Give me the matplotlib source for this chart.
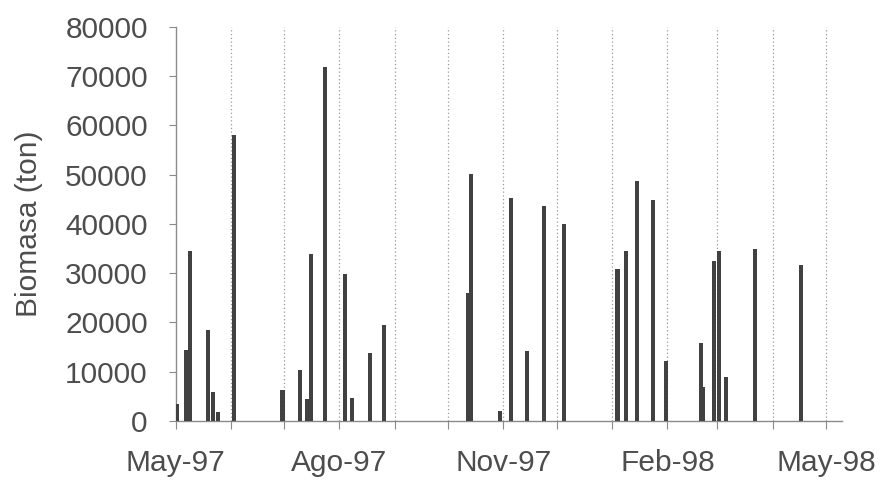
import numpy as np
import pandas as pd
import matplotlib
matplotlib.use("Agg")
import matplotlib.pyplot as plt
import matplotlib.dates as mdates

# ── DATA ─────────────────────────────────────────────────────────
sample_dates = [
    "1997-05-02", "1997-05-07", "1997-05-09", "1997-05-19", "1997-05-22",
    "1997-05-25", "1997-06-03", "1997-06-30", "1997-07-10", "1997-07-14",
    "1997-07-16", "1997-07-24", "1997-08-04", "1997-08-08", "1997-08-18",
    "1997-08-26", "1997-10-12", "1997-10-14", "1997-10-30", "1997-11-05",
    "1997-11-14", "1997-11-24", "1997-12-05", "1998-01-04", "1998-01-09",
    "1998-01-15", "1998-01-24", "1998-01-31", "1998-02-20", "1998-02-21",
    "1998-02-27", "1998-03-02", "1998-03-06", "1998-03-22", "1998-04-17",
]
biomasa = [
    3500, 14500, 34500, 18500, 5900,
    1800, 58000, 6300, 10300, 4500,
    34000, 71800, 29800, 4600, 13900,
    19500, 26000, 50200, 2100, 45300,
    14300, 43700, 40000, 30900, 34600,
    48700, 44800, 12200, 15900, 6800,
    32500, 34600, 9000, 34900, 31600,
]

month_ticks = pd.date_range("1997-05-01", "1998-05-01", freq="MS")
month_labels = ["May-97", "", "", "Ago-97", "", "", "Nov-97", "", "",
                "Feb-98", "", "", "May-98"]
y_ticks = [0, 10000, 20000, 30000, 40000, 50000, 60000, 70000, 80000]

# ── STYLE ────────────────────────────────────────────────────────
plt.rcParams["font.family"] = ["Liberation Sans", "DejaVu Sans"]
AXIS_GREY = "#8a8a8a"
TEXT_GREY = "#4d4d4d"
BAR_GREY  = "#414141"

fig = plt.figure(figsize=(8.87, 4.83), dpi=100)
ax = fig.add_axes([0.1979, 0.1284, 0.9493 - 0.1979, 0.9441 - 0.1284])

x = mdates.date2num(pd.to_datetime(sample_dates))
ax.bar(x, biomasa, width=2.3, color=BAR_GREY, zorder=3)

# dotted monthly grid
tick_num = mdates.date2num(month_ticks)
for t in tick_num[1:]:
    ax.axvline(t, color="#9a9a9a", linestyle=(0, (1, 2)), linewidth=0.9, zorder=1)

x0 = mdates.date2num(pd.Timestamp("1997-05-01"))
ax.set_xlim(x0, x0 + 374)
ax.set_ylim(0, 80000)

ax.set_xticks(tick_num)
ax.set_xticklabels(month_labels)
ax.set_yticks(y_ticks)
ax.set_yticklabels([str(v) for v in y_ticks])

for side in ["top", "right"]:
    ax.spines[side].set_visible(False)
for side in ["left", "bottom"]:
    ax.spines[side].set_color(AXIS_GREY)
    ax.spines[side].set_linewidth(1.0)

ax.tick_params(axis="x", direction="out", length=6, width=0.8, color=AXIS_GREY,
               pad=14, labelsize=21.5, labelcolor=TEXT_GREY)
ax.tick_params(axis="y", direction="out", length=5, width=0.8, color=AXIS_GREY,
               pad=15, labelsize=21.5, labelcolor=TEXT_GREY)

ax.set_ylabel("Biomasa (ton)", fontsize=21.5, color=TEXT_GREY, labelpad=16)

fig.savefig("out.png", dpi=100)
